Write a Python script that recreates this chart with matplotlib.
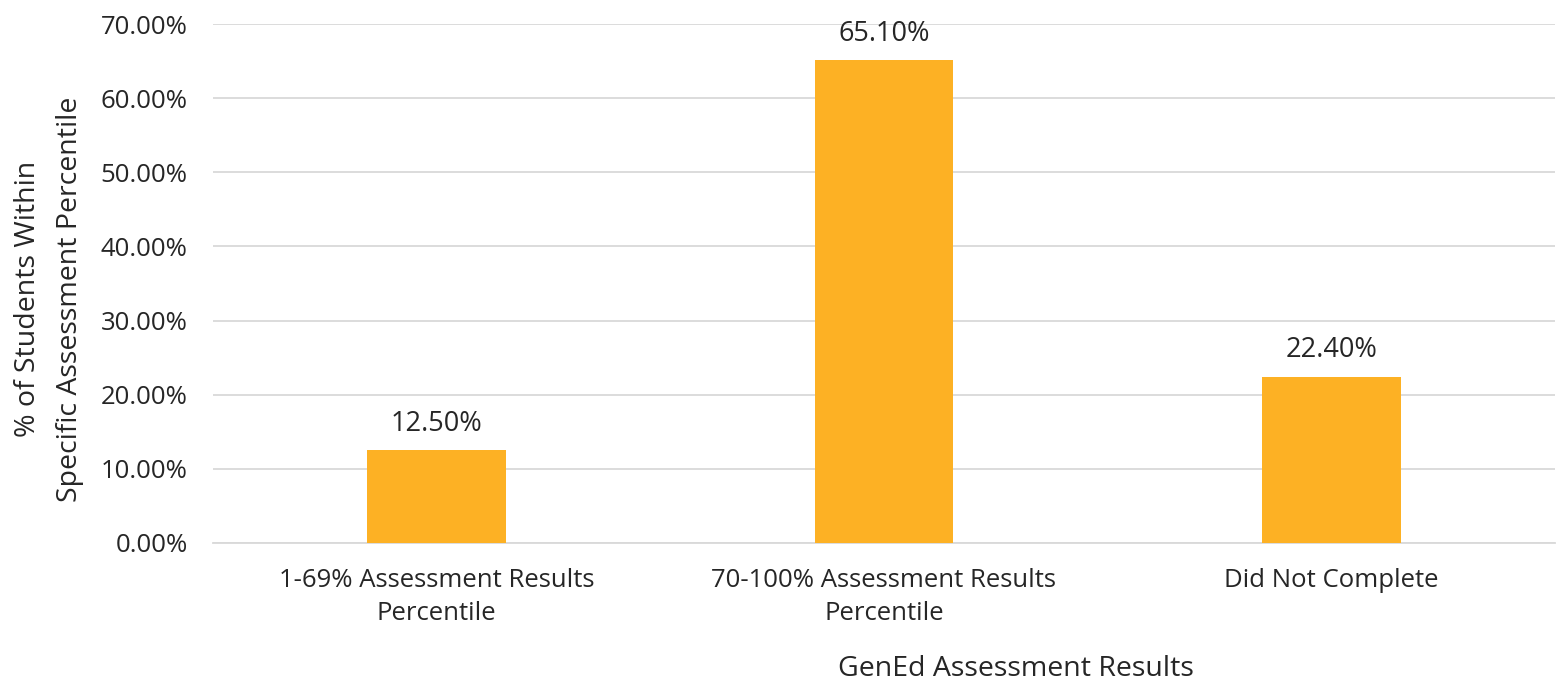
import matplotlib.pyplot as plt
from matplotlib.ticker import PercentFormatter

categories = ["1-69% Assessment Results\nPercentile",
              "70-100% Assessment Results\nPercentile",
              "Did Not Complete"]
values = [12.5, 65.1, 22.4]
value_labels = ["12.50%", "65.10%", "22.40%"]
y_ticks = [0, 10, 20, 30, 40, 50, 60, 70]


def main():
    plt.rcParams["font.family"] = ["Open Sans", "DejaVu Sans"]
    fig = plt.figure(figsize=(15.63, 6.88), dpi=100)
    ax = fig.add_axes([0.136, 0.211, 0.859, 0.754])

    x = range(len(categories))
    ax.bar(x, values, width=0.31, color="#FDB124", zorder=3)
    for xi, v, lab in zip(x, values, value_labels):
        ax.annotate(lab, (xi, v), xytext=(0, 9), textcoords="offset points",
                    ha="center", va="bottom", fontsize=19.5, color="#262626")

    ax.set_xlim(-0.5, 2.5)
    ax.set_ylim(0, 70)
    ax.set_yticks(y_ticks)
    ax.yaxis.set_major_formatter(PercentFormatter(decimals=2))
    ax.set_xticks(list(x))
    ax.set_xticklabels(categories, fontsize=18.5, color="#262626",
                       linespacing=1.45)
    ax.tick_params(axis="y", labelsize=18.5, labelcolor="#262626", length=0, pad=18)
    ax.tick_params(axis="x", length=0, pad=18)
    ax.grid(axis="y", color="#D9D9D9", linewidth=1.3, zorder=0)
    for side in ["top", "right", "left"]:
        ax.spines[side].set_visible(False)
    ax.spines["bottom"].set_color("#D9D9D9")
    ax.spines["bottom"].set_linewidth(1.3)

    ax.set_ylabel("% of Students Within\nSpecific Assessment Percentile",
                  fontsize=20.5, color="#262626", linespacing=1.65)
    ax.yaxis.set_label_coords(-0.096, 0.47)
    fig.text(0.65, 0.028, "GenEd Assessment Results", ha="center", va="center",
             fontsize=20.5, color="#262626")

    fig.savefig("out.png", dpi=100)


if __name__ == "__main__":
    main()
